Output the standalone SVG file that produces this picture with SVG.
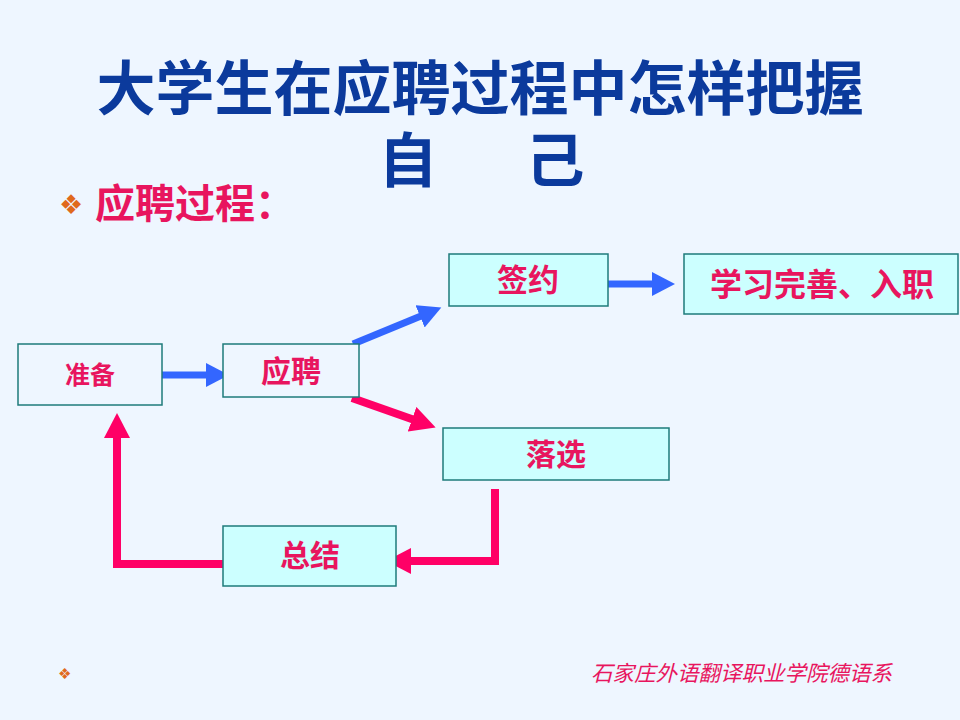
<svg xmlns="http://www.w3.org/2000/svg" width="960" height="720" viewBox="0 0 960 720">
<style>
.title{font-family:"Noto Sans CJK SC","Liberation Sans",sans-serif;font-weight:bold;font-size:59px;fill:#0B3A9C;text-anchor:middle}
.sub{font-family:"Noto Sans CJK SC","Liberation Sans",sans-serif;font-weight:bold;font-size:40px;fill:#E8155E}
.bullet{font-family:"DejaVu Sans",sans-serif;fill:#E0691C}
.box{stroke:#1E7B7B;stroke-width:1.5}
.plain{fill:#EEF6FF}
.cyan{fill:#CCFFFF}
.lbl{font-family:"Noto Sans CJK SC","Liberation Sans",sans-serif;font-weight:bold;fill:#E8155E;text-anchor:middle}
.blue{fill:none;stroke:#3366FF;stroke-width:7}
.pink{fill:none;stroke:#FF0066;stroke-width:8;stroke-linejoin:miter}
.foot{font-family:"Noto Sans CJK SC","Liberation Sans",sans-serif;font-style:italic;font-size:21.5px;fill:#E8155E}
</style>
<defs>
<marker id="ab" markerUnits="userSpaceOnUse" markerWidth="24" markerHeight="24" refX="1" refY="12" orient="auto"><path d="M0,0 L23,12 L0,24 Z" fill="#3366FF"/></marker>
<marker id="ap" markerUnits="userSpaceOnUse" markerWidth="26" markerHeight="26" refX="1" refY="13" orient="auto"><path d="M0,0 L25,13 L0,26 Z" fill="#FF0066"/></marker>
</defs>
<rect width="960" height="720" fill="#EEF6FF"/>
<text class="title" x="480" y="110">大学生在应聘过程中怎样把握</text>
<text class="title" y="182"><tspan x="408">自</tspan><tspan x="555">己</tspan></text>
<text class="bullet" x="59" y="214" font-size="27">❖</text>
<text class="sub" x="95" y="218">应聘过程：</text>
<g id="connectors">
<path class="blue" d="M155,375 H207" marker-end="url(#ab)"/>
<path class="blue" d="M353,344 L421,316" marker-end="url(#ab)"/>
<path class="blue" d="M603,284 H653" marker-end="url(#ab)"/>
<path class="pink" d="M352,398 L413,419.5" marker-end="url(#ap)"/>
<path class="pink" d="M495,489 V561 H410" marker-end="url(#ap)"/>
<path class="pink" d="M231,564 H117 V437" marker-end="url(#ap)"/>
</g>
<g id="node-zhunbei">
<rect class="box plain" x="18" y="344" width="144" height="61"/>
<text class="lbl" x="90" y="384" font-size="25">准备</text>
</g>
<g id="node-yingpin">
<rect class="box plain" x="223" y="344" width="136" height="53"/>
<text class="lbl" x="291" y="382" font-size="30">应聘</text>
</g>
<g id="node-qianyue">
<rect class="box cyan" x="449" y="254" width="159" height="52"/>
<text class="lbl" x="528" y="291" font-size="31">签约</text>
</g>
<g id="node-xuexi">
<rect class="box cyan" x="684" y="254" width="274" height="60"/>
<text class="lbl" x="822" y="296" font-size="32">学习完善、入职</text>
</g>
<g id="node-luoxuan">
<rect class="box cyan" x="443" y="428" width="226" height="52"/>
<text class="lbl" x="556" y="465" font-size="30">落选</text>
</g>
<g id="node-zongjie">
<rect class="box cyan" x="223" y="526" width="173" height="60"/>
<text class="lbl" x="310" y="566" font-size="30">总结</text>
</g>
<text class="bullet" x="58" y="679" font-size="15">❖</text>
<text class="foot" x="591" y="681">石家庄外语翻译职业学院德语系</text>
</svg>
